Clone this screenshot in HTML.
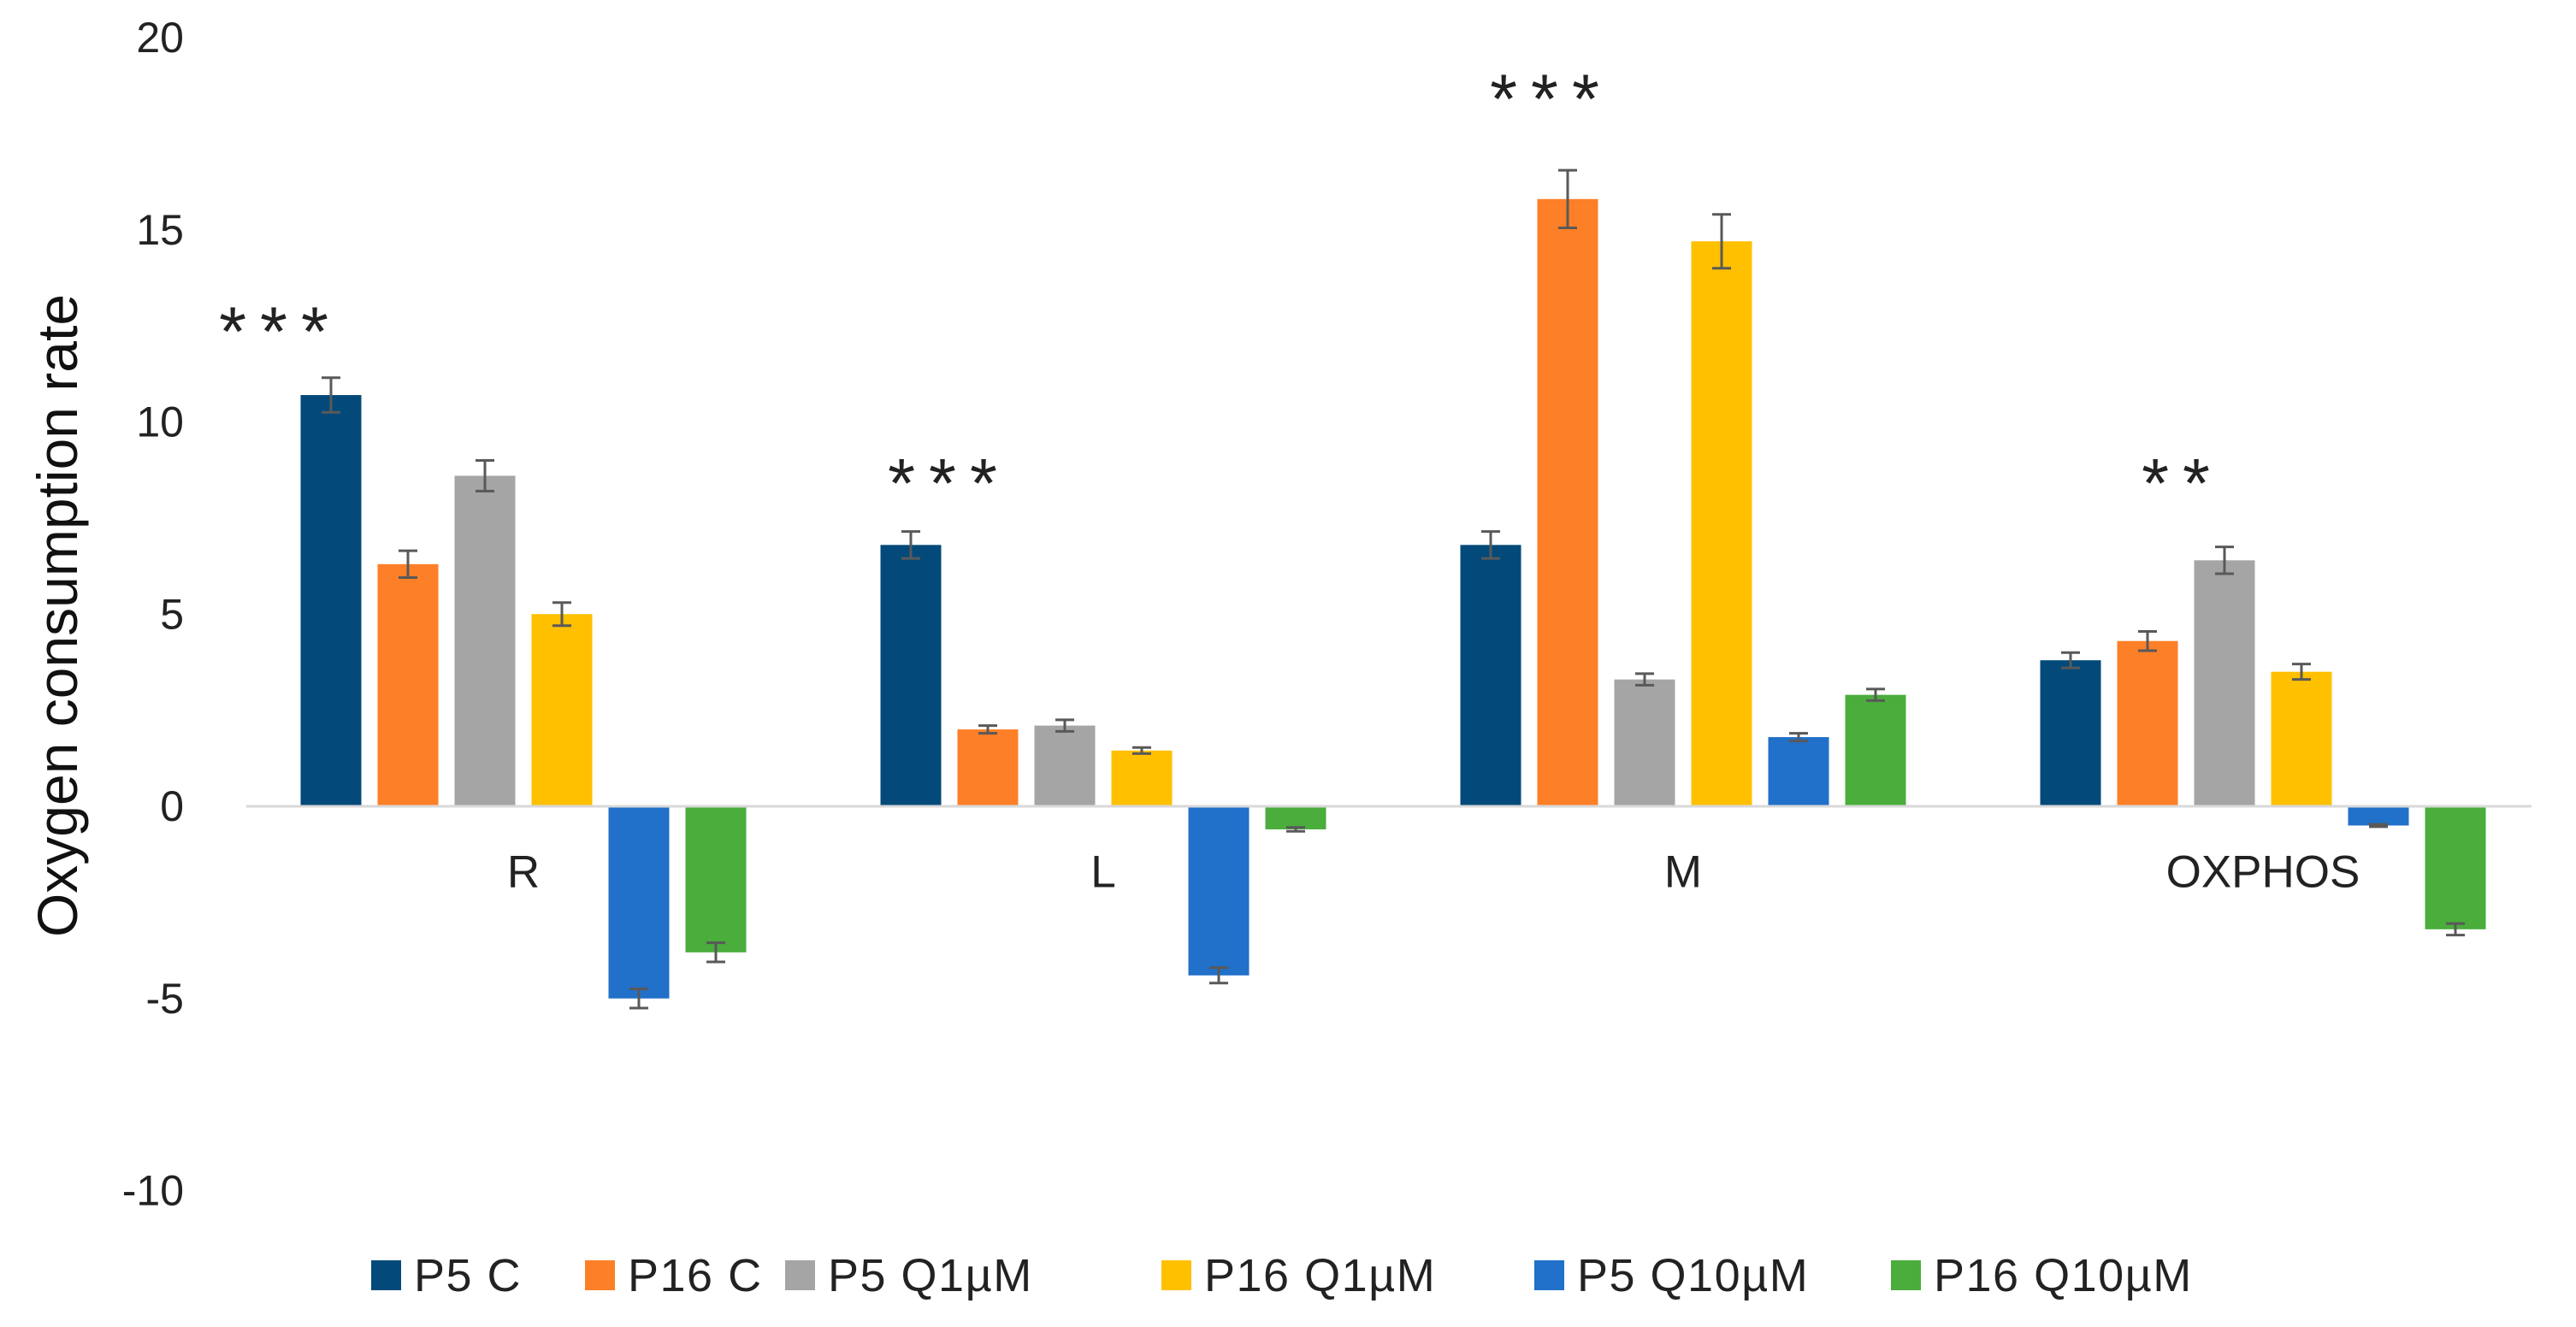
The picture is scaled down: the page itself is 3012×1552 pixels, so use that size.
<!DOCTYPE html>
<html><head><meta charset="utf-8"><style>
html,body{margin:0;padding:0;background:#fff;}
svg{display:block;font-family:"Liberation Sans",sans-serif;}
</style></head><body>
<svg id="chart" width="3012" height="1552" viewBox="0 0 3012 1552">
<g id="yaxis"></g>
<g id="bars"></g>
<g id="xaxis"></g>
<g id="legend"></g>
<text x="67" y="720" transform="rotate(-90 67 720)" text-anchor="middle" dominant-baseline="central" font-size="66" fill="#111">Oxygen consumption rate</text>
</svg>
<script>
const categories = ["R","L","M","OXPHOS"];
const seriesNames = ["P5 C","P16 C","P5 Q1\u00b5M","P16 Q1\u00b5M","P5 Q10\u00b5M","P16 Q10\u00b5M"];
const seriesColors = ["#034a7a","#fd7f27","#a5a5a5","#ffc000","#2170c9","#4aad3c"];
const p5C = [10.7, 6.8, 6.8, 3.8];
const p16C = [6.3, 2.0, 15.8, 4.3];
const p5Q1 = [8.6, 2.1, 3.3, 6.4];
const p16Q1 = [5.0, 1.45, 14.7, 3.5];
const p5Q10 = [-5.0, -4.4, 1.8, -0.5];
const p16Q10 = [-3.8, -0.6, 2.9, -3.2];
const errP5C = [0.45, 0.35, 0.35, 0.2];
const errP16C = [0.35, 0.1, 0.75, 0.25];
const errP5Q1 = [0.4, 0.15, 0.15, 0.35];
const errP16Q1 = [0.3, 0.08, 0.7, 0.2];
const errP5Q10 = [0.25, 0.2, 0.1, 0.03];
const errP16Q10 = [0.25, 0.05, 0.15, 0.15];
const yTicks = [-10, -5, 0, 5, 10, 15, 20];
const significance = ["***","***","***","**"];
const sigValues = [12.65, 8.7, 18.7, 8.7];

const values = [p5C,p16C,p5Q1,p16Q1,p5Q10,p16Q10];
const errs = [errP5C,errP16C,errP5Q1,errP16Q1,errP5Q10,errP16Q10];
const NS = "http://www.w3.org/2000/svg";
const zeroY = 943, unit = 44.95;
const plotX0 = 273, catW = 678, pitch = 90, barW = 71;
const sigShift = [-284, -180, -154, -94];
function y(v){ return zeroY - v*unit; }
function catCenter(i){ return plotX0 + catW*(i+0.5); }
function barX(ci, si){ return catCenter(ci) + (si-2.5)*pitch - barW/2; }
function mk(tag, attrs, parent){ const e=document.createElementNS(NS,tag); for(const k in attrs) e.setAttribute(k,attrs[k]); parent.appendChild(e); return e; }

const yaxis=document.getElementById('yaxis');
yTicks.forEach(t=>{
  const e=mk('text',{x:215,y:y(t),'text-anchor':'end','dominant-baseline':'central','font-size':50,fill:'#222'},yaxis);
  e.textContent=String(t);
  
  
});
const bars=document.getElementById('bars');
categories.forEach((c,ci)=>{
  values.forEach((arr,si)=>{
    const v=arr[ci];
    const r=mk('rect',{x:barX(ci,si),y:Math.min(y(v),zeroY),width:barW,height:Math.abs(y(v)-zeroY),fill:seriesColors[si]},bars);
    
    
    const cx=barX(ci,si)+barW/2, e=errs[si][ci];
    const g=mk('g',{stroke:'#595959','stroke-width':3},bars);
    
    
    mk('line',{x1:cx,x2:cx,y1:y(v+e),y2:y(v-e)},g);
    mk('line',{x1:cx-11,x2:cx+11,y1:y(v+e),y2:y(v+e)},g);
    mk('line',{x1:cx-11,x2:cx+11,y1:y(v-e),y2:y(v-e)},g);
  });
  const s=mk('text',{x:catCenter(ci)+sigShift[ci],y:y(sigValues[ci])+14,'text-anchor':'middle','dominant-baseline':'central','font-size':82,'letter-spacing':16,fill:'#222'},bars);
  s.textContent=significance[ci];
  
  
});
const xaxis=document.getElementById('xaxis');
const ax=mk('line',{x1:288,x2:2960,y1:zeroY,y2:zeroY,stroke:'#d9d9d9','stroke-width':3},xaxis);


categories.forEach((c,ci)=>{
  const t=mk('text',{x:catCenter(ci),y:1020,'text-anchor':'middle','dominant-baseline':'central','font-size':53,fill:'#222'},xaxis);
  t.textContent=c;
  
  
});
const legend=document.getElementById('legend');
const legX=[434,684,918,1358,1794,2211];
seriesNames.forEach((n,i)=>{
  const g=mk('g',{},legend);
  
  
  mk('rect',{x:legX[i],y:1474,width:35,height:35,fill:seriesColors[i]},g);
  const t=mk('text',{x:legX[i]+50,y:1492,'dominant-baseline':'central','font-size':54,'letter-spacing':1.5,fill:'#222'},g);
  t.textContent=n;
});
</script>
</body></html>
